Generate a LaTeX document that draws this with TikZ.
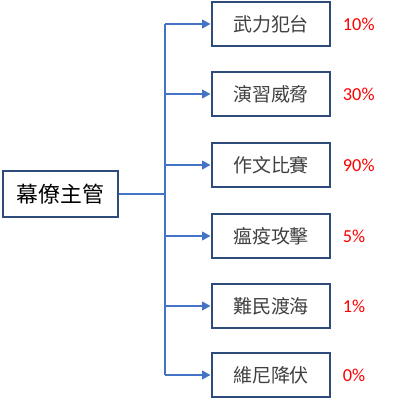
\documentclass[tikz,border=0pt]{standalone}
\usepackage{fontspec}
\setmainfont{Carlito}
\newfontfamily\cjk{Noto Sans CJK TC}
\usetikzlibrary{arrows.meta,positioning,calc}
\definecolor{navy}{HTML}{2F4B7C}
\definecolor{linkblue}{HTML}{4472C4}
\definecolor{inkgrey}{HTML}{404040}

\begin{document}
\begin{tikzpicture}[x=0.025cm,y=-0.025cm,font=\cjk\fontsize{13.5}{16}\selectfont\color{inkgrey},
            box/.style={draw=navy,line width=2pt,fill=white,minimum width=2.95cm,minimum height=1.1cm},
            link/.style={linkblue,line width=2pt},
            pct/.style={red,font=\fontsize{13}{15}\selectfont,anchor=west}]
          \useasboundingbox (0,0) rectangle (400,400);
          \node[box,minimum width=2.875cm,minimum height=1.15cm,font=\cjk\fontsize{15.5}{18}\selectfont] (boss) at (60.5,194) {幕僚主管};
          \coordinate (trunk) at (165,194);
          \foreach \i/\y/\lab/\p in {1/24/武力犯台/10,2/94/演習威脅/30,3/165/作文比賽/90,
                                     4/236/瘟疫攻擊/5,5/306/難民渡海/1,6/375/維尼降伏/0}{
            \node[box] (b\i) at (271,\y) {\lab};
            \node[pct] (p\i) at (338,\y) {\p\%};
            \draw[link,-{Triangle[length=6pt,width=6pt]}] (trunk |- b\i) -- (b\i.west);}
          \draw[link] (trunk |- b1) -- (trunk |- b6);
          \draw[link] (boss.east) -- (trunk);
        \end{tikzpicture}
\end{document}
